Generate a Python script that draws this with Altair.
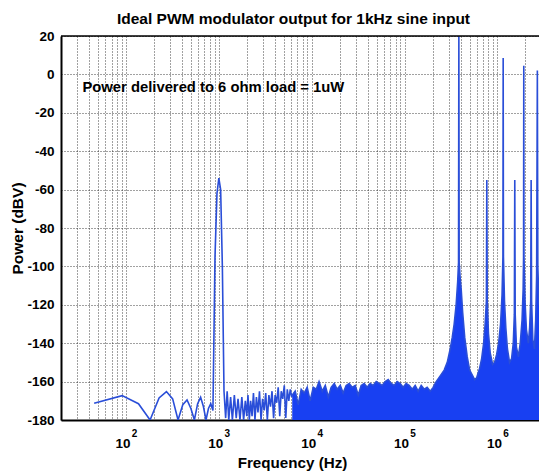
import altair as alt
import pandas as pd

FONT = "Liberation Sans, Arial, sans-serif"
FILL_BLUE = "#1840f2"
LINE_BLUE = "#2a4ed8"

title_text = "Ideal PWM modulator output for 1kHz sine input"
note_text = ["Power delivered to 6 ohm load = 1uW"]
note_freq = [34]
note_db = [-7]
x_title = "Frequency (Hz)"
y_title = "Power (dBV)"

x_domain = [20, 2.8e6]
y_domain = [-180, 20]
y_ticks = [-180, -160, -140, -120, -100, -80, -60, -40, -20, 0, 20]
x_grid = [m * 10 ** e for e in range(1, 7) for m in range(1, 10) if 20 <= m * 10 ** e <= 2.8e6]

dec_freq = [1e2, 1e3, 1e4, 1e5, 1e6]
dec_base = ["10", "10", "10", "10", "10"]
dec_exp = ["2", "3", "4", "5", "6"]

# low-frequency leakage lobes and the 1 kHz signal peak
lf_freq = [45.5, 91, 136.5, 182, 227.5, 273, 318.5, 364, 409.5, 455, 500.5, 546,
           591.5, 637, 682.5, 728, 773.5, 819, 864.5, 910, 955.5, 1001, 1046.5,
           1092, 1137.5]
lf_db = [-171.3, -167.3, -171.5, -180, -168.5, -165.2, -169, -180, -172, -169.6,
         -174, -180, -171.5, -168.2, -173, -180, -174, -171.5, -175, -95, -62,
         -54, -60, -100, -165]

# oscillating noise just above the signal
osc_freq = [1185, 1230, 1280, 1340, 1400, 1470, 1540, 1610, 1690, 1770, 1850, 1930,
            2000, 2060, 2130, 2200, 2280, 2360, 2450, 2540, 2640, 2740, 2850, 2960,
            3080, 3200, 3330, 3460, 3600, 3740, 3890, 4040, 4200, 4360, 4530, 4700,
            4880, 5070, 5260, 5460, 5670, 5880, 6100]
osc_db = [-179, -165, -180, -168, -180, -167, -179, -169, -180, -168, -180, -170,
          -178, -167, -180, -170, -178, -166, -180, -168, -176, -165, -180, -169,
          -175, -166, -180, -167, -173, -165, -179, -167, -171, -163, -178, -165,
          -169, -162, -179, -164, -170, -164, -168]

# dense noise floor, switching-carrier skirts and harmonics (upper envelope)
env_freq = [6170, 6640, 7160, 7710, 8300, 8940, 9630, 10400, 11200, 12000, 13000,
            14000, 15100, 16200, 17500, 18800, 20300, 21800, 23500, 25300, 27300,
            29400, 31700, 34100, 36700, 39600, 42600, 45900, 49500, 53300, 57400,
            61800, 66600, 71800, 77300, 83200, 89700, 96600, 104000, 112000, 121000,
            130000, 140000, 151000, 163000, 175000, 189000, 203000, 219000, 242000,
            267000, 288000, 310000, 326000, 342000, 359000, 373000, 381000, 384000,
            387000, 395000, 407000, 422000, 444000, 472000, 502000, 541000, 568000,
            597000, 643000, 676000, 710000, 737000, 760000, 768000, 776000, 800000,
            835000, 887000, 931000, 979000, 1030000, 1080000, 1120000, 1145000,
            1152000, 1160000, 1190000, 1230000, 1280000, 1350000, 1420000, 1480000,
            1520000, 1536000, 1552000, 1600000, 1680000, 1760000, 1840000, 1890000,
            1910000, 1920000, 1930000, 1980000, 2050000, 2150000, 2220000, 2280000,
            2304000, 2330000, 2400000, 2500000, 2580000, 2640000, 2688000, 2720000,
            2800000]
env_db = [-167, -165, -172, -164, -166, -163, -170, -163, -164, -160, -165,
          -162, -168, -163, -161, -164, -162, -166, -162, -161, -163,
          -162, -167, -162, -161, -163, -161, -162, -160, -161, -162,
          -160, -159, -161, -162, -160, -161, -163, -161, -162, -164,
          -162, -165, -162, -164, -163, -165, -163, -160, -157,
          -154, -150, -143, -137, -130, -120, -108, -98, 20,
          -98, -105, -112, -124, -137, -147, -154, -157, -159,
          -158, -153, -148, -140, -130, -118, -55, -118, -135,
          -145, -151, -150, -146, -140, -130, -115, -95,
          8.5, -95, -118, -132, -143, -150, -148, -140,
          -125, -55, -125, -142, -147, -140, -128, -112,
          -95, 4.5, -95, -118, -133, -140, -132, -118,
          -55, -118, -138, -143, -128, -105, 2, -100,
          -120]

line_df = pd.DataFrame({
    "f": lf_freq + osc_freq + env_freq,
    "db": lf_db + osc_db + env_db,
})
area_df = pd.DataFrame({"f": env_freq, "db": env_db})
dec_df = pd.DataFrame({"f": dec_freq, "base": dec_base, "exp": dec_exp})
note_df = pd.DataFrame({"f": note_freq, "db": note_db, "t": note_text})
top_df = pd.DataFrame({"db": [y_domain[1]]})

x_scale = alt.Scale(type="log", domain=x_domain, nice=False)
y_scale = alt.Scale(domain=y_domain, nice=False)

grid_kw = dict(grid=True, gridColor="#222222", gridDash=[1, 2], gridWidth=1, gridOpacity=0.85,
               domain=True, domainColor="black", domainWidth=2, ticks=False,
               labelOverlap=False)

x_axis = alt.Axis(values=x_grid, labels=False, title=x_title, titleFont=FONT,
                  titleFontSize=15.2, titleFontWeight="bold", titleColor="black",
                  titleX=231, titleY=47, titleAlign="center", titleBaseline="alphabetic",
                  **grid_kw)
y_axis = alt.Axis(values=y_ticks, labelExpr="'' + datum.value", labelFont=FONT,
                  labelFontSize=13.5, labelFontWeight="bold", labelColor="black",
                  labelPadding=7, labelBound=False, title=y_title, titleFont=FONT,
                  titleFontSize=15.5, titleFontWeight="bold", titleColor="black",
                  titleX=-44, titleY=192, titleAngle=270, titleAlign="center",
                  titleBaseline="middle", **grid_kw)

X = alt.X("f:Q", scale=x_scale, axis=x_axis)
Y = alt.Y("db:Q", scale=y_scale, axis=y_axis)

area = alt.Chart(area_df).mark_area(color=FILL_BLUE, opacity=1).encode(
    x=X, y=Y, y2=alt.datum(-180),
)
line = alt.Chart(line_df).mark_line(color=LINE_BLUE, strokeWidth=1.6, clip=True).encode(
    x=X, y=Y
)
top_rule = alt.Chart(top_df).mark_rule(color="black", strokeWidth=1.5).encode(y=Y)
base_txt = alt.Chart(dec_df).mark_text(font=FONT, fontSize=13.5, fontWeight="bold",
                                       color="black", align="center", baseline="alphabetic",
                                       dx=-3).encode(x=X, y=alt.value(412), text="base:N")
exp_txt = alt.Chart(dec_df).mark_text(font=FONT, fontSize=10, fontWeight="bold",
                                      color="black", align="center", baseline="alphabetic",
                                      dx=8.5).encode(x=X, y=alt.value(401), text="exp:N")
note = alt.Chart(note_df).mark_text(font=FONT, fontSize=14.8, fontWeight="bold", color="black",
                                    align="left", baseline="middle").encode(
    x=X, y=Y, text="t:N")

chart = alt.layer(area, line, top_rule, base_txt, exp_txt, note).properties(
    width=478, height=384,
    padding={"left": 61, "top": 36, "right": 0, "bottom": 54},
    autosize=alt.AutoSizeParams(type="none"),
    title=alt.TitleParams(title_text, font=FONT, fontSize=15.5, fontWeight="bold",
                          color="black", anchor="middle", dx=-6.5, offset=2),
).configure_view(stroke=None).configure_axis(labelOverlap=False).configure(background="white")

chart.save("out.html", embed_options={"renderer": "svg", "actions": False})
